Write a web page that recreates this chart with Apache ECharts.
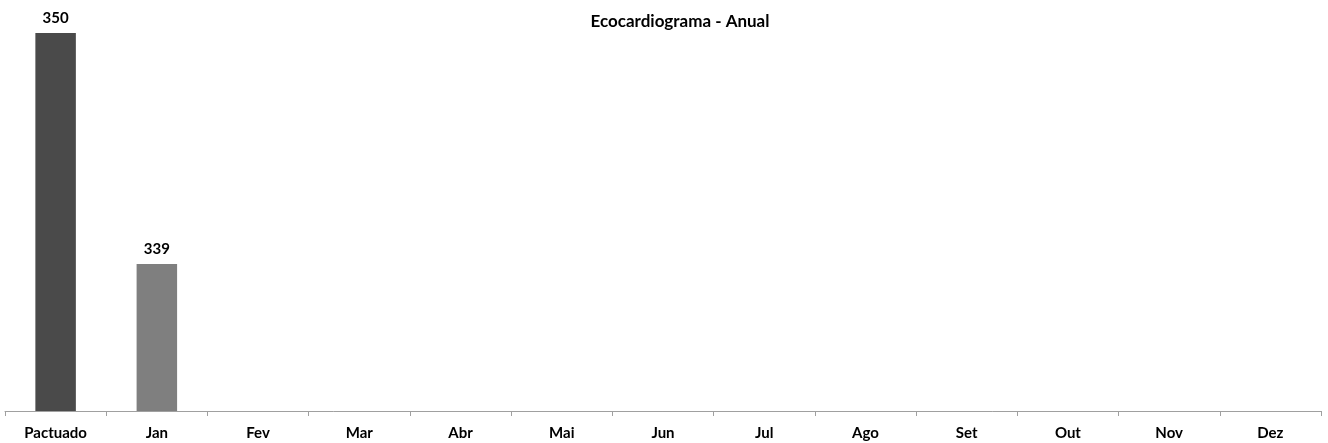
<!DOCTYPE html>
<html>
<head>
<meta charset="utf-8">
<script src="https://cdn.jsdelivr.net/npm/echarts@6/dist/echarts.min.js"></script>
<style>
  html, body { margin: 0; padding: 0; background: #ffffff; }
  #chart { width: 1328px; height: 443px; }
</style>
</head>
<body>
<div id="chart"></div>
<script>
// Categories along the x axis
const categories = ['Pactuado', 'Jan', 'Fev', 'Mar', 'Abr', 'Mai', 'Jun', 'Jul', 'Ago', 'Set', 'Out', 'Nov', 'Dez'];
// Annual target followed by the monthly counts (months without data left empty)
const values = [350, 339, null, null, null, null, null, null, null, null, null, null, null];
// Bar fill per category: target bar darker than the monthly bars
const barColors = ['#4a4a4a', '#7f7f7f', '#7f7f7f', '#7f7f7f', '#7f7f7f', '#7f7f7f', '#7f7f7f',
                   '#7f7f7f', '#7f7f7f', '#7f7f7f', '#7f7f7f', '#7f7f7f', '#7f7f7f'];

const FONT = 'Lato, "Open Sans", sans-serif';

const chart = echarts.init(document.getElementById('chart'), null, { renderer: 'canvas' });
chart.setOption({
  animation: false,
  backgroundColor: '#ffffff',
  title: {
    text: 'Ecocardiograma - Anual',
    left: 675,
    top: 8,
    textAlign: 'center',
    textStyle: { fontFamily: FONT, fontWeight: 'bold', fontSize: 17, color: '#000000' }
  },
  grid: { left: 5, right: 7, top: 33, bottom: 32, containLabel: false },
  xAxis: {
    type: 'category',
    data: categories,
    boundaryGap: true,
    axisLine: { lineStyle: { color: '#a0a0a0', width: 1 } },
    axisTick: { show: true, length: 5, inside: false, lineStyle: { color: '#a0a0a0' } },
    axisLabel: { fontFamily: FONT, fontWeight: 'bold', fontSize: 15, color: '#000000', margin: 15, interval: 0 }
  },
  yAxis: {
    type: 'value',
    min: 332,
    max: 350,
    show: false,
    splitLine: { show: false }
  },
  series: [{
    type: 'bar',
    data: values.map((v, i) => ({ value: v, itemStyle: { color: barColors[i] } })),
    barWidth: '40%',
    label: {
      show: true,
      position: 'top',
      distance: 7,
      fontFamily: FONT,
      fontWeight: 'bold',
      fontSize: 15,
      color: '#000000'
    }
  }]
});
</script>
</body>
</html>
